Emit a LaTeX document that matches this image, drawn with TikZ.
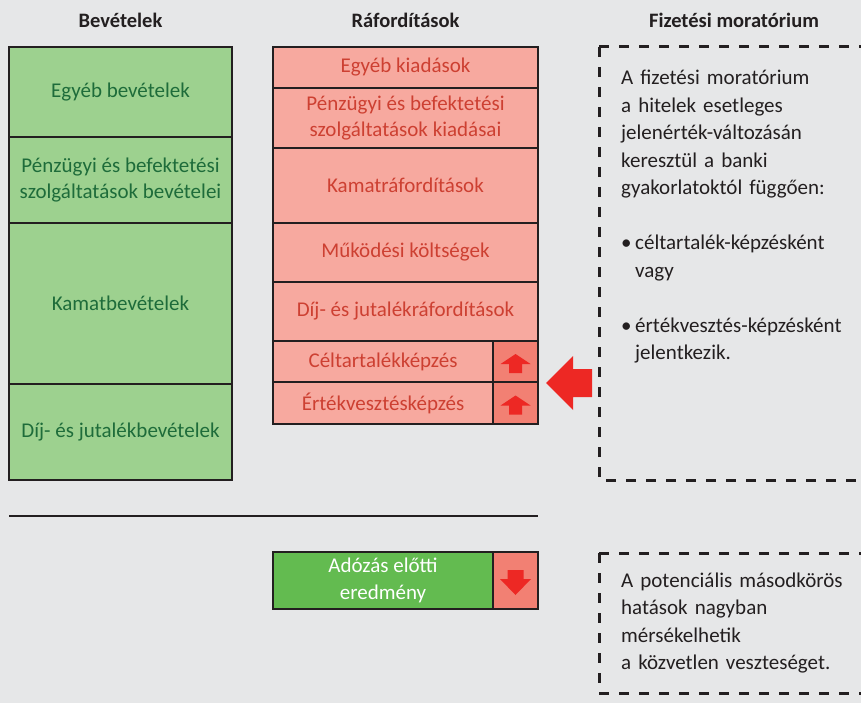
\documentclass[tikz,border=0pt]{standalone}
\usepackage{fontspec}
\setmainfont{Carlito}

\definecolor{bggray}{RGB}{230,231,232}
\definecolor{revgreen}{RGB}{157,209,143}
\definecolor{revtext}{RGB}{30,108,58}
\definecolor{exppink}{RGB}{247,169,159}
\definecolor{exptext}{RGB}{205,64,50}
\definecolor{cellred}{RGB}{242,128,115}
\definecolor{arrowred}{RGB}{237,40,36}
\definecolor{pbtgreen}{RGB}{99,187,80}
\definecolor{darktext}{RGB}{35,31,32}

\newcommand{\boxtextfont}{\fontsize{21}{26.5}\selectfont}
\newcommand{\notetextfont}{\fontsize{21}{27.5}\selectfont}

\begin{document}
\begin{tikzpicture}[x=1pt, y=-1pt]
        \def\revx{120.5}
        \def\expx{405.5}
        \def\txtx{383}
        \def\cellx{515.5}
        \tikzstyle{revbox}=[draw=darktext, line width=2.6pt, fill=revgreen, text=revtext, minimum width=223pt, inner sep=0pt, align=center, font=\boxtextfont]
        \tikzstyle{expbox}=[draw=darktext, line width=2.6pt, fill=exppink, text=exptext, minimum width=265pt, inner sep=0pt, align=center, font=\boxtextfont]
        \tikzstyle{cell}=[draw=darktext, line width=2.6pt, fill=cellred, minimum width=45pt, inner sep=0pt]
        \tikzstyle{head}=[anchor=base, text=darktext, font=\bfseries\fontsize{20.5}{24}\selectfont]
        \tikzstyle{dashbox}=[draw=darktext, line width=3pt, dash pattern=on 10pt off 10pt]
        \tikzstyle{note}=[anchor=base west, inner sep=0pt, text width=238pt, align=left, text=darktext, font=\notetextfont]

        % Background
        \fill[bggray] (0,0) rectangle (861,703);
        \useasboundingbox (0,0) rectangle (861,703);

        % Headers
        \node at (\revx, 28) [head] (head_rev) {Bevételek};
        \node at (\expx, 28) [head] (head_exp) {Ráfordítások};
        \node at (734, 28) [head] (head_mor) {Fizetési moratórium};

        % Revenues
        \node at (\revx, 92) [revbox, minimum height=90pt] (rev_0) {Egyéb bevételek};
        \node at (\revx, 180) [revbox, minimum height=86pt] (rev_1) {Pénzügyi és befektetési\\szolgáltatások bevételei};
        \node at (\revx, 303.5) [revbox, minimum height=161pt] (rev_2) {Kamatbevételek};
        \node at (\revx, 432) [revbox, minimum height=96pt] (rev_3) {Díj- és jutalékbevételek};

        % Expenses
        \node at (\expx, 67.5) [expbox, minimum height=41pt] (exp_0) {Egyéb kiadások};
        \node at (\expx, 118) [expbox, minimum height=60pt] (exp_1) {Pénzügyi és befektetési\\szolgáltatások kiadásai};
        \node at (\expx, 185.5) [expbox, minimum height=75pt] (exp_2) {Kamatráfordítások};
        \node at (\expx, 252.5) [expbox, minimum height=59pt] (exp_3) {Működési költségek};
        \node at (\expx, 311.5) [expbox, minimum height=59pt] (exp_4) {Díj- és jutalékráfordítások};
        \node at (\txtx, 361.5) [expbox, minimum width=220pt, minimum height=41pt] (exp_5) {Céltartalékképzés};
        \node at (\txtx, 403) [expbox, minimum width=220pt, minimum height=42pt] (exp_6) {Értékvesztésképzés};
        \node at (\cellx, 361.5) [cell, minimum height=41pt] (up_5) {};
        \node at (\cellx, 403) [cell, minimum height=42pt] (up_6) {};

        \foreach \c in {up_5, up_6}
            \fill[arrowred] (\c.center) ++(0,-7.5) -- ++(15,10) -- ++(-8.5,0) -- ++(0,9) -- ++(-13,0) -- ++(0,-9) -- ++(-8.5,0) -- cycle;

        % Moratorium arrow
        \coordinate (mor_tip) at (546,383);
        \fill[arrowred] (mor_tip) -- ++(27,-27) -- ++(0,13) -- ++(19,0) -- ++(0,28) -- ++(-19,0) -- ++(0,13) -- cycle;

        % Separator
        \coordinate (sep_l) at (9,516);
        \coordinate (sep_r) at (538,516);
        \draw[darktext, line width=2.2pt] (sep_l) -- (sep_r);

        % Profit before tax
        \node at (\txtx, 580.5) [expbox, fill=pbtgreen, text=white, minimum width=220pt, minimum height=57pt] (pbt) {Adózás előtti\\eredmény};
        \node at (\cellx, 580.5) [cell, minimum height=57pt] (dn_0) {};
        \fill[arrowred] (dn_0.center) ++(0,14.5) -- ++(15.5,-16) -- ++(-7.5,0) -- ++(0,-9) -- ++(-16,0) -- ++(0,9) -- ++(-7.5,0) -- cycle;

        % Notes
        \draw[dashbox] (599,47) -- (875,47);
        \draw[dashbox] (599,47) -- (599,480) -- (875,480);
        \node at (621,85) [note] (mor_text) {A fizetési moratórium\\a hitelek esetleges\\jelenérték-változásán\\keresztül a banki\\gyakorlatoktól függően:\\[27.5pt]\makebox[14pt][l]{\textbullet}céltartalék-képzésként\\\hspace*{14pt}vagy\\[27.5pt]\makebox[14pt][l]{\textbullet}értékvesztés-képzésként\\\hspace*{14pt}jelentkezik.};

        \draw[dashbox] (599,553) -- (875,553);
        \draw[dashbox] (599,553) -- (599,693) -- (875,693);
        \node at (621,587) [note] (sec_text) {A potenciális másodkörös\\hatások nagyban\\mérsékelhetik\\a közvetlen veszteséget.};

    \end{tikzpicture}
\end{document}
